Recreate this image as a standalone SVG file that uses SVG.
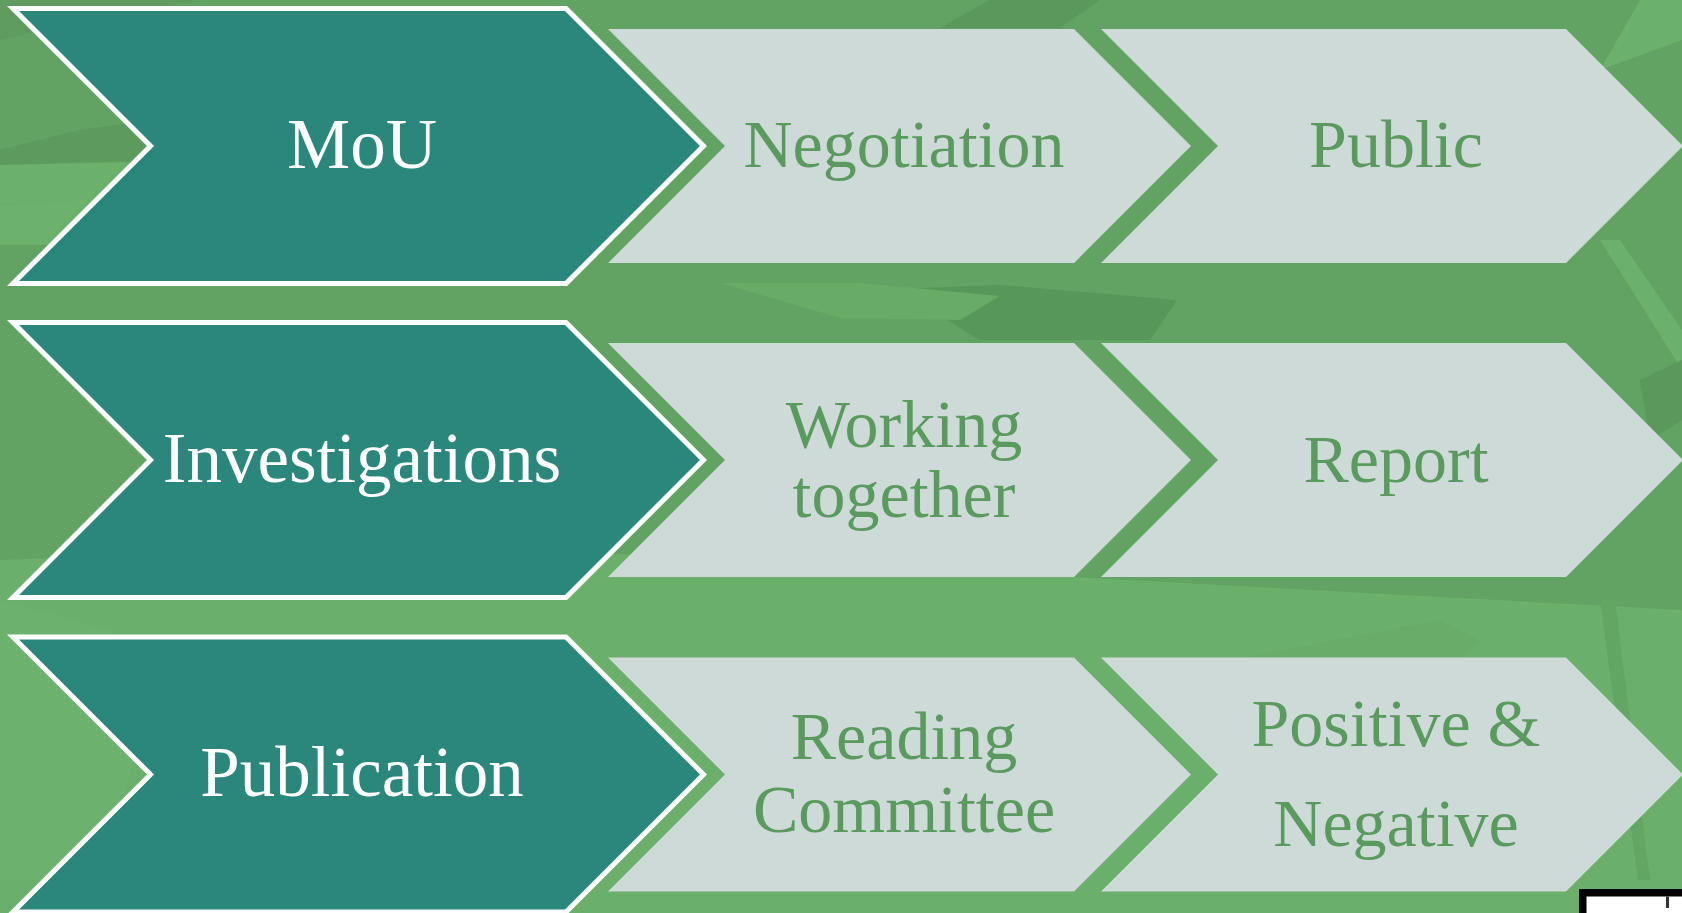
<svg xmlns="http://www.w3.org/2000/svg" width="1682" height="913" viewBox="0 0 1682 913">
  <defs>
    <style>
      .teal { fill: #2B877C; stroke: #FFFFFF; stroke-width: 5; stroke-linejoin: miter; stroke-miterlimit: 10; }
      .gray { fill: #CDDAD7; }
      .tw { font-family: "Liberation Serif", "Times New Roman", serif; font-size: 71px; fill: #FFFFFF; text-anchor: middle; }
      .tg { font-family: "Liberation Serif", "Times New Roman", serif; font-size: 68px; fill: #5A9A5E; text-anchor: middle; }
    </style>
  </defs>

  <g id="background">
    <rect x="0" y="0" width="1682" height="913" fill="#62A263"/>
    <polygon points="0,560 400,545 760,560 1682,610 1682,913 0,913" fill="#6AAF6A"/>
    <polygon points="0,40 90,20 200,0 0,0" fill="#5E9D5F"/>
    <polygon points="0,150 80,130 150,120 150,160 0,165" fill="#5C9A5D"/>
    <polygon points="0,165 240,160 150,200 0,205" fill="#6BB06B"/>
    <polygon points="0,205 120,200 60,245 0,245" fill="#6CB26C"/>
    <polygon points="896,289 1000,285 1177,300 1150,340 980,340" fill="#58975A"/>
    <polygon points="720,283 860,283 1000,296 960,320 840,318" fill="#67AB67"/>
    <polygon points="990,0 1100,0 1060,28 940,28" fill="#5A985C"/>
    <polygon points="1640,0 1682,0 1682,40 1600,70" fill="#6BB06B"/>
    <polygon points="1600,240 1620,240 1682,330 1682,370" fill="#6BB06B"/>
    <polygon points="1640,380 1682,360 1682,420 1650,440" fill="#5A985C"/>
    <polygon points="1600,600 1615,600 1650,880 1638,880" fill="#63A664"/>
    <polygon points="1230,660 1440,620 1480,640 1250,880 1220,880" fill="#68AC68"/>
    <polygon points="0,600 110,630 150,700 100,880 0,880" fill="#6CB26C"/>
  </g>

  <g id="connectors"></g>

  <g id="node-mou">
    <path class="teal" d="M13,8.5 L566,8.5 L703.5,146 L566,283.5 L13,283.5 L150.5,146 Z"/>
    <text class="tw" x="362" y="168">MoU</text>
  </g>
  <g id="node-negotiation">
    <path class="gray" d="M608,29 L1074,29 L1191,146 L1074,263 L608,263 L725,146 Z"/>
    <text class="tg" x="904" y="167">Negotiation</text>
  </g>
  <g id="node-public">
    <path class="gray" d="M1101,29 L1566,29 L1683,146 L1566,263 L1101,263 L1218,146 Z"/>
    <text class="tg" x="1396" y="167">Public</text>
  </g>

  <g id="node-investigations">
    <path class="teal" d="M13,322.5 L566,322.5 L703.5,460 L566,597.5 L13,597.5 L150.5,460 Z"/>
    <text class="tw" x="362" y="482">Investigations</text>
  </g>
  <g id="node-working-together">
    <path class="gray" d="M608,343 L1074,343 L1191,460 L1074,577 L608,577 L725,460 Z"/>
    <text class="tg" x="904" y="447">Working</text>
    <text class="tg" x="904" y="517">together</text>
  </g>
  <g id="node-report">
    <path class="gray" d="M1101,343 L1566,343 L1683,460 L1566,577 L1101,577 L1218,460 Z"/>
    <text class="tg" x="1396" y="482">Report</text>
  </g>

  <g id="node-publication">
    <path class="teal" d="M13,637 L566,637 L703.5,774.5 L566,912 L13,912 L150.5,774.5 Z"/>
    <text class="tw" x="362" y="796">Publication</text>
  </g>
  <g id="node-reading-committee">
    <path class="gray" d="M608,657.5 L1074,657.5 L1191,774.5 L1074,891.5 L608,891.5 L725,774.5 Z"/>
    <text class="tg" x="904" y="759">Reading</text>
    <text class="tg" x="904" y="832">Committee</text>
  </g>
  <g id="node-positive-negative">
    <path class="gray" d="M1101,657.5 L1566,657.5 L1683,774.5 L1566,891.5 L1101,891.5 L1218,774.5 Z"/>
    <text class="tg" x="1396" y="746">Positive &amp;</text>
    <text class="tg" x="1396" y="846">Negative</text>
  </g>

  <g id="corner-box">
    <rect x="1579" y="889" width="103" height="24" fill="#000000"/>
    <rect x="1586.5" y="896.5" width="95.5" height="16.5" fill="#FFFFFF"/>
    <rect x="1666" y="896.5" width="3" height="11.5" fill="#333333"/>
  </g>
</svg>
